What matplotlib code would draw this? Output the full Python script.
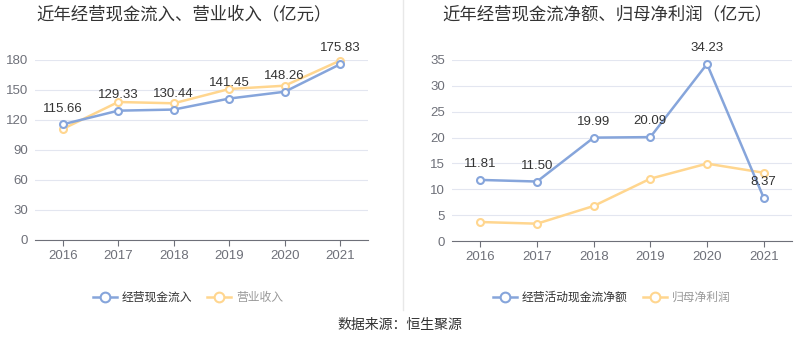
import matplotlib
matplotlib.use('Agg')
import matplotlib.pyplot as plt
from matplotlib.lines import Line2D

plt.rcParams['font.family'] = ['Noto Sans CJK SC', 'DejaVu Sans']

years = ['2016', '2017', '2018', '2019', '2020', '2021']
# left chart
cash_in = [115.66, 129.33, 130.44, 141.45, 148.26, 175.83]
revenue = [111.0, 138.0, 136.7, 151.0, 154.3, 179.5]
# right chart
cash_net = [11.81, 11.50, 19.99, 20.09, 34.23, 8.37]
net_profit = [3.67, 3.35, 6.77, 12.05, 14.96, 13.2]

blue = '#86a5db'
yellow = '#ffd68f'
grid_c = '#e3e6f0'
tick_c = '#6e7079'
num_font = ['Liberation Sans', 'DejaVu Sans']

fig = plt.figure(figsize=(8, 3.58), dpi=100)
W, H = 800, 358


def make_ax(left, right, top, bottom):
    return fig.add_axes([left / W, 1 - bottom / H, (right - left) / W, (bottom - top) / H])


def style(ax, ymax, step):
    ax.set_xlim(-0.5, len(years) - 0.5)
    ax.set_ylim(0, ymax)
    ax.set_yticks(range(0, ymax + 1, step))
    ax.set_xticks(range(len(years)))
    ax.set_xticklabels(years)
    for s in ['top', 'right', 'left']:
        ax.spines[s].set_visible(False)
    ax.spines['bottom'].set_color('#6e7079')
    ax.grid(axis='y', color=grid_c, lw=0.8)
    ax.set_axisbelow(True)
    ax.tick_params(axis='y', length=0, colors=tick_c, labelsize=9.5, pad=5)
    ax.tick_params(axis='x', length=4, color='#6e7079', colors=tick_c, labelsize=9.5)
    for lab in ax.get_xticklabels() + ax.get_yticklabels():
        lab.set_family(num_font)


def draw(ax, vals, color, labels):
    x = range(len(vals))
    ax.plot(x, vals, color=color, lw=1.8, marker='o', ms=5, mfc='white',
            mec=color, mew=1.5, zorder=3, clip_on=False)
    if labels:
        for i, v in enumerate(vals):
            ax.annotate(f'{v:.2f}', (i, v), xytext=(0, 7), textcoords='offset points',
                        ha='center', va='bottom', fontsize=9.5, color='#333333',
                        family=num_font)


ax1 = make_ax(35, 368, 60, 240)
style(ax1, 180, 30)
draw(ax1, revenue, yellow, False)
draw(ax1, cash_in, blue, True)

ax2 = make_ax(452, 792, 60, 241)
style(ax2, 35, 5)
draw(ax2, net_profit, yellow, False)
draw(ax2, cash_net, blue, True)

fig.text(184 / W, 1 - 14 / H, '近年经营现金流入、营业收入（亿元）', ha='center', va='center',
         fontsize=12.5, color='#333333')
fig.text(607 / W, 1 - 14 / H, '近年经营现金流净额、归母净利润（亿元）', ha='center', va='center',
         fontsize=12.5, color='#333333')

fig.add_artist(Line2D([403 / W, 403 / W], [1 - 310 / H, 1.0], color='#e8e8e8', lw=1))


def legend_item(x, label, color, text_color):
    y = 1 - 297 / H
    fig.add_artist(Line2D([x / W, (x + 24) / W], [y, y], color=color, lw=1.8))
    fig.add_artist(Line2D([(x + 12) / W], [y], marker='o', ms=7, mfc='white', mec=color,
                          mew=1.5, color=color))
    fig.text((x + 29) / W, y, label, ha='left', va='center', fontsize=8.5, color=text_color)


legend_item(93, '经营现金流入', blue, '#333333')
legend_item(207, '营业收入', yellow, '#999999')
legend_item(493, '经营活动现金流净额', blue, '#333333')
legend_item(643, '归母净利润', yellow, '#999999')

fig.text(400 / W, 1 - 325 / H, '数据来源：恒生聚源', ha='center', va='center',
         fontsize=10, color='#333333')

fig.savefig('out.png', dpi=100)
